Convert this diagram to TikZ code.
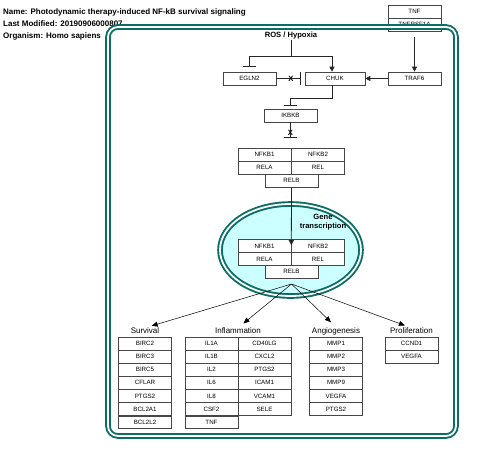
\documentclass[tikz,border=0pt]{standalone}
\usepackage{fontspec}
\setmainfont{Liberation Sans}
\usetikzlibrary{arrows.meta}
\definecolor{teal1}{RGB}{10,110,100}
\definecolor{cyanfill}{RGB}{204,255,255}
\definecolor{boxline}{RGB}{70,70,70}
\begin{document}
\begin{tikzpicture}[x=1pt,y=-1pt,
 gb/.style={draw=boxline, fill=white, minimum width=53pt, minimum height=13pt, inner sep=0pt, font=\fontsize{6.2}{7}\selectfont, line width=0.6pt},
 gs/.style={gb, minimum height=12.6pt},
 lab/.style={font=\fontsize{8}{9}\selectfont, inner sep=0pt},
 blab/.style={font=\bfseries\fontsize{7.6}{9}\selectfont, inner sep=0pt},
 tlab/.style={font=\bfseries\fontsize{8}{9}\selectfont, inner sep=0pt},
 conn/.style={draw=black!85, line width=0.8pt},
 fan/.style={draw=black, line width=0.5pt, -{Triangle[length=6pt,width=5pt]}},
 arr/.style={-{Triangle[length=5pt,width=5pt]}},
 inh/.style={-{Bar[width=13pt,line width=0.8pt]}},
 frame/.style={draw=teal1, double=white, double distance=1.8pt, line width=1.9pt}]
\useasboundingbox (0,0) rectangle (480,459);
% title
\node[tlab, anchor=west] (t1) at (3,12) {Name: Photodynamic therapy-induced NF-kB survival signaling};
\node[tlab, anchor=west] (t2) at (3,24) {Last Modified: 20190906000807};
\node[tlab, anchor=west] (t3) at (3,36) {Organism: Homo sapiens};
% receptor boxes
\node[gb] (tnf) at (414.5,11.5) {TNF};
\node[gb] (tnfr) at (414.5,24.5) {TNFRSF1A};
% frame
\draw[frame, rounded corners=10pt] (108,27) rectangle (456,436);
% top pathway
\node[blab] (ros) at (291,36) {ROS / Hypoxia};
\node[gb] (egln2) at (249.5,78.5) {EGLN2};
\node[gb, minimum width=60pt] (chuk) at (335,78.5) {CHUK};
\node[gb] (traf6) at (414.5,78.5) {TRAF6};
\node[gb] (ikbkb) at (290.5,115.5) {IKBKB};
\node[gb] (nfkb1a) at (264.5,154.5) {NFKB1};
\node[gb] (nfkb2a) at (318,154.5) {NFKB2};
\node[gb] (relaa) at (264.5,167.5) {RELA};
\node[gb] (rela) at (318,167.5) {REL};
\node[gb] (relba) at (291.5,180.5) {RELB};
\coordinate (rosj) at (291,56);
\coordinate (rosl) at (249.5,56);
\coordinate (rosr) at (332,56);
\draw[conn] (ros.south) -- (rosj);
\draw[conn] (rosl) -- (rosr);
\draw[conn, inh] (rosl) -- ([yshift=5pt]egln2.north);
\draw[conn, arr] (rosr) -- (rosr |- chuk.north);
\draw[conn, arr] (tnfr.south) ++(0,6) coordinate (tnfs) -- (traf6.north);
\draw[conn, arr] (traf6.west) -- (chuk.east);
\draw[conn, inh] (egln2.east) -- ([xshift=-4pt]chuk.west);
\node[blab] (x1) at (291,78.5) {X};
\coordinate (chukd) at (332,85);
\coordinate (chukj) at (332,98);
\coordinate (ikj) at (290.5,98);
\draw[conn] (chukd) -- (chukj) -- (ikj);
\draw[conn, inh] (ikj) -- ([yshift=3pt]ikbkb.north);
\coordinate (nfb) at (290.5,138);
\draw[conn, inh] (ikbkb.south) -- (nfb);
\node[blab] (x2) at (290.5,133) {X};
% nucleus ellipse
\draw[frame, fill=cyanfill] (290.5,250) ellipse [x radius=70.5pt, y radius=46pt];
\node[blab, align=center] (gt) at (323,222.5) {Gene\\transcription};
\node[gb] (nfkb1b) at (264.5,246) {NFKB1};
\node[gb] (nfkb2b) at (318,246) {NFKB2};
\node[gb] (relab) at (264.5,259) {RELA};
\node[gb] (relb2) at (318,259) {REL};
\node[gb] (relbb) at (291.5,271.5) {RELB};
\draw[conn, arr] (relba.south) -- ([yshift=7pt]relab.north east);
% fan
\coordinate (apex) at (291.5,284);
\node[lab] (surv) at (145,331) {Survival};
\node[lab] (infl) at (238,331) {Inflammation};
\node[lab] (angi) at (336,331) {Angiogenesis};
\node[lab] (prol) at (411.5,331) {Proliferation};
\foreach \n in {surv,infl,angi,prol}
  \draw[fan, shorten >=7pt] (apex) -- (\n.north);
% gene lists
\foreach \t [count=\i] in {BIRC2,BIRC3,BIRC5,CFLAR,PTGS2,BCL2A1,BCL2L2}
  \node[gs] (s\i) at (145,{343.5+(\i-1)*13.1}) {\t};
\foreach \t [count=\i] in {IL1A,IL1B,IL2,IL6,IL8,CSF2,TNF}
  \node[gs] (ia\i) at (211.5,{343.5+(\i-1)*13.1}) {\t};
\foreach \t [count=\i] in {CD40LG,CXCL2,PTGS2,ICAM1,VCAM1,SELE}
  \node[gs] (ib\i) at (264.5,{343.5+(\i-1)*13.1}) {\t};
\foreach \t [count=\i] in {MMP1,MMP2,MMP3,MMP9,VEGFA,PTGS2}
  \node[gs] (a\i) at (336,{343.5+(\i-1)*13.1}) {\t};
\foreach \t [count=\i] in {CCND1,VEGFA}
  \node[gs] (p\i) at (411.5,{343.5+(\i-1)*13.1}) {\t};
\end{tikzpicture}
\end{document}
